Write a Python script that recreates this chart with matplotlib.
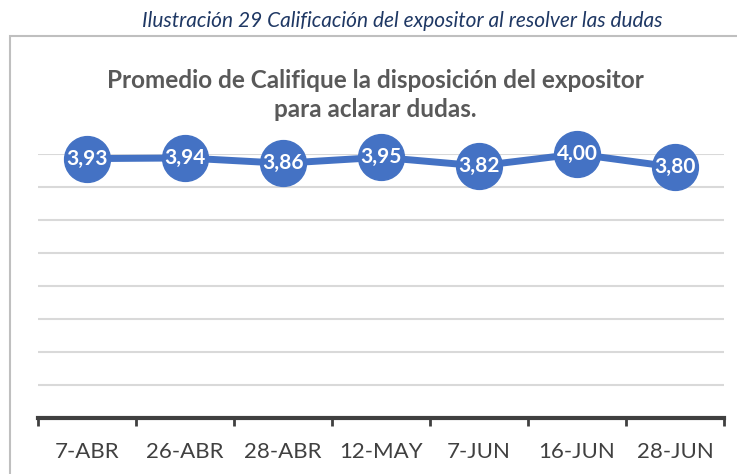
import matplotlib
matplotlib.use("Agg")
import matplotlib.pyplot as plt
from matplotlib.patches import Rectangle

categories = ["7-ABR", "26-ABR", "28-ABR", "12-MAY", "7-JUN", "16-JUN", "28-JUN"]
values = [3.93, 3.94, 3.86, 3.95, 3.82, 4.00, 3.80]
labels = ["3,93", "3,94", "3,86", "3,95", "3,82", "4,00", "3,80"]
yticks = [0.5, 1.0, 1.5, 2.0, 2.5, 3.0, 3.5, 4.0]

FONT = ["Lato", "DejaVu Sans"]
plt.rcParams["font.family"] = FONT

W, H = 737, 474
fig = plt.figure(figsize=(W / 100, H / 100), dpi=100)

# chart border box
fig.patches.append(Rectangle((10 / W, -0.1), 1.2, 1 - 36 / H + 0.1, transform=fig.transFigure,
                             fill=False, edgecolor="#bfbfbf", linewidth=1.5))

fig.text(402 / W, 1 - 21 / H, "Ilustración 29 Calificación del expositor al resolver las dudas",
         ha="center", va="center", fontsize=15, style="italic", color="#1F3864")
fig.text(375 / W, 1 - 95 / H, "Promedio de Califique la disposición del expositor\npara aclarar dudas.",
         ha="center", va="center", fontsize=17.5, fontweight="bold", color="#595959",
         linespacing=1.35)

ax = fig.add_axes([38 / W, 1 - 418 / H, 686 / W, 264 / H])
x = list(range(len(categories)))
ax.plot(x, values, color="#4472C4", linewidth=5, marker="o", markersize=33,
        markerfacecolor="#4472C4", markeredgecolor="#4472C4", clip_on=False, zorder=3)
for xi, v, lab in zip(x, values, labels):
    ax.text(xi, v, lab, ha="center", va="center", color="white", fontsize=15,
            fontweight="bold", zorder=4)

ax.set_xlim(-0.5, len(categories) - 0.5)
ax.set_ylim(0, 4)
ax.set_yticks(yticks)
ax.yaxis.grid(True, color="#d9d9d9", linewidth=1.5)
ax.set_axisbelow(True)
ax.tick_params(axis="y", left=False, labelleft=False)
for s in ["left", "right", "top"]:
    ax.spines[s].set_visible(False)
ax.spines["bottom"].set_color("#404040")
ax.spines["bottom"].set_linewidth(3)

ax.set_xticks([i - 0.5 for i in range(len(categories) + 1)], minor=False)
ax.set_xticklabels([])
ax.tick_params(axis="x", which="major", direction="out", length=6, width=2, color="#404040")
ax.set_xticks(x, minor=True)
ax.set_xticklabels(categories, minor=True)
ax.tick_params(axis="x", which="minor", length=0, pad=17, labelsize=16, labelcolor="#404040")

fig.savefig("out.png", dpi=100)
